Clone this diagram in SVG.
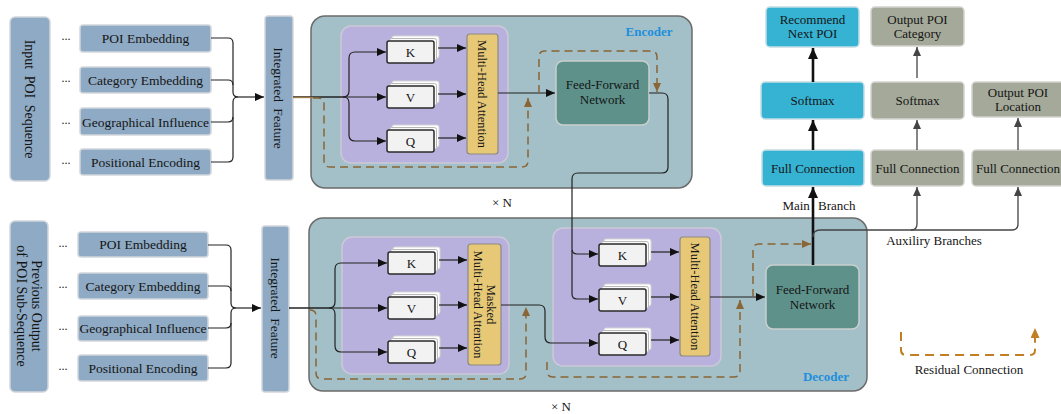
<svg xmlns="http://www.w3.org/2000/svg" xmlns:xlink="http://www.w3.org/1999/xlink" width="1061" height="414" viewBox="0 0 1061 414">
<style>
.t{font-family:"Liberation Serif","Times New Roman",serif;fill:#151515}
.emb{fill:#8eaac4;stroke:#d2d6db;stroke-width:1.5}
.blk{fill:#a3bfc7;stroke:#6b6b6b;stroke-width:1.5}
.pur{fill:#b8b0dd;stroke:#cdc9d8;stroke-width:1.5}
.mha{fill:#e6c877;stroke:#8d8a80;stroke-width:1.2}
.ffn{fill:#5d918a;stroke:#c9d0ce;stroke-width:1.5}
.blu{fill:#36b2d3;stroke:#c4dde5;stroke-width:1.5}
.gry{fill:#a4a999;stroke:#d2d3cf;stroke-width:1.5}
.ln{fill:none;stroke:#222;stroke-width:1.2}
.thk{fill:none;stroke:#111;stroke-width:2.6}
.aux{fill:none;stroke:#444;stroke-width:1.3}
.res{fill:none;stroke:#8a6535;stroke-width:1.5;stroke-dasharray:8 5}
.leg{fill:none;stroke:#c07f25;stroke-width:2;stroke-dasharray:9 6}
</style>
<defs>
<marker id="ah" markerUnits="userSpaceOnUse" markerWidth="9" markerHeight="8" refX="9" refY="4" orient="auto"><path d="M0,0 L9,4 L0,8 z" fill="#111"/></marker>
<marker id="ahT" markerUnits="userSpaceOnUse" markerWidth="11" markerHeight="10" refX="11" refY="5" orient="auto"><path d="M0,0 L11,5 L0,10 z" fill="#111"/></marker>
<marker id="ahG" markerUnits="userSpaceOnUse" markerWidth="9" markerHeight="8" refX="9" refY="4" orient="auto"><path d="M0,0 L9,4 L0,8 z" fill="#444"/></marker>
<marker id="ahR" markerUnits="userSpaceOnUse" markerWidth="9" markerHeight="8" refX="9" refY="4" orient="auto"><path d="M0,0 L9,4 L0,8 z" fill="#8a6535"/></marker>
<marker id="ahL" markerUnits="userSpaceOnUse" markerWidth="10" markerHeight="9" refX="10" refY="4.5" orient="auto"><path d="M0,0 L10,4.5 L0,9 z" fill="#c07f25"/></marker>
<g id="stk">
<rect x="5" y="-5" width="47" height="22" rx="2" fill="#fff" stroke="#d4d4d4"/>
<rect x="2.5" y="-2.5" width="47" height="22" rx="2" fill="#fafafa" stroke="#b8b8b8"/>
<rect x="0" y="0" width="47" height="22" rx="2" fill="#f2f2f2" stroke="#2a2a2a" stroke-width="1.5"/>
</g>
</defs>
<rect width="1061" height="414" fill="#fff"/>

<!-- encoder input side -->
<g id="input-seq"><rect class="emb" x="10" y="17" width="40" height="164" rx="5"/>
<text class="t" font-size="14" word-spacing="3" text-anchor="middle" transform="translate(30,99) rotate(90)" y="5">Input POI Sequence</text></g>
<g id="enc-poi"><text class="t" x="66" y="40" font-size="12" text-anchor="middle">...</text><rect class="emb" x="80" y="25" width="131" height="27" rx="3"/><text class="t" x="145.5" y="43" font-size="13.5" text-anchor="middle">POI Embedding</text></g>
<g id="enc-cat"><text class="t" x="66" y="82" font-size="12" text-anchor="middle">...</text><rect class="emb" x="80" y="67" width="131" height="26" rx="3"/><text class="t" x="145.5" y="85" font-size="13.5" text-anchor="middle">Category Embedding</text></g>
<g id="enc-geo"><text class="t" x="66" y="124" font-size="12" text-anchor="middle">...</text><rect class="emb" x="80" y="108" width="131" height="27" rx="3"/><text class="t" x="145.5" y="126.5" font-size="13.5" text-anchor="middle">Geographical Influence</text></g>
<g id="enc-pos"><text class="t" x="66" y="164" font-size="12" text-anchor="middle">...</text><rect class="emb" x="80" y="149" width="131" height="26" rx="3"/><text class="t" x="145.5" y="166.5" font-size="13.5" text-anchor="middle">Positional Encoding</text></g>
<g id="enc-feat"><rect class="emb" x="265" y="16" width="28" height="164" rx="3"/>
<text class="t" font-size="13.5" word-spacing="3" text-anchor="middle" transform="translate(279,98) rotate(90)" y="5">Integrated Feature</text></g>

<!-- decoder input side -->
<g id="prev-seq"><rect class="emb" x="10" y="221" width="38" height="171" rx="5"/>
<text class="t" font-size="14" text-anchor="middle" transform="translate(29,306) rotate(90)"><tspan x="0" y="-2.5">Previous Output</tspan><tspan x="0" y="12">of POI Sub-Sequence</tspan></text></g>
<g id="dec-poi"><text class="t" x="63" y="247" font-size="12" text-anchor="middle">...</text><rect class="emb" x="78" y="232" width="130" height="25" rx="3"/><text class="t" x="143" y="249" font-size="13.5" text-anchor="middle">POI Embedding</text></g>
<g id="dec-cat"><text class="t" x="63" y="288" font-size="12" text-anchor="middle">...</text><rect class="emb" x="78" y="273" width="130" height="26" rx="3"/><text class="t" x="143" y="290.5" font-size="13.5" text-anchor="middle">Category Embedding</text></g>
<g id="dec-geo"><text class="t" x="63" y="330" font-size="12" text-anchor="middle">...</text><rect class="emb" x="78" y="316" width="130" height="25" rx="3"/><text class="t" x="143" y="333" font-size="13.5" text-anchor="middle">Geographical Influence</text></g>
<g id="dec-pos"><text class="t" x="63" y="370" font-size="12" text-anchor="middle">...</text><rect class="emb" x="78" y="355" width="130" height="26" rx="3"/><text class="t" x="143" y="372.5" font-size="13.5" text-anchor="middle">Positional Encoding</text></g>
<g id="dec-feat"><rect class="emb" x="262" y="226" width="27" height="166" rx="3"/>
<text class="t" font-size="13.5" word-spacing="3" text-anchor="middle" transform="translate(275.5,308) rotate(90)" y="5">Integrated Feature</text></g>

<!-- encoder block -->
<g id="encoder">
<rect class="blk" x="311" y="16" width="381" height="172" rx="14"/>
<text class="t" x="649" y="36" font-size="13" font-weight="bold" text-anchor="middle" style="fill:#1e8fdc">Encoder</text>
<rect class="pur" x="341" y="26" width="167" height="137" rx="10"/>
</g>
<g id="enc-k"><use xlink:href="#stk" x="387" y="41"/><text class="t" x="410.5" y="56.5" font-size="13" text-anchor="middle">K</text></g>
<g id="enc-v"><use xlink:href="#stk" x="387" y="86"/><text class="t" x="410.5" y="101.5" font-size="13" text-anchor="middle">V</text></g>
<g id="enc-q"><use xlink:href="#stk" x="387" y="130"/><text class="t" x="410.5" y="145.5" font-size="13" text-anchor="middle">Q</text></g>
<g id="enc-mha"><rect class="mha" x="467" y="34" width="31" height="120" rx="3"/>
<text class="t" font-size="12.5" text-anchor="middle" transform="translate(482.5,94) rotate(90)" y="4.3">Multi-Head Attention</text></g>
<g id="enc-ffn"><rect class="ffn" x="556" y="61" width="93" height="64" rx="7"/>
<text class="t" font-size="13" text-anchor="middle"><tspan x="602.5" y="89">Feed-Forward</tspan><tspan x="602.5" y="104">Network</tspan></text></g>
<text class="t" x="502" y="207" font-size="13" text-anchor="middle">× N</text>

<!-- decoder block -->
<g id="decoder">
<rect class="blk" x="309" y="218" width="558" height="173" rx="14"/>
<text class="t" x="826" y="381" font-size="13" font-weight="bold" text-anchor="middle" style="fill:#1e8fdc">Decoder</text>
<rect class="pur" x="342" y="237" width="167" height="137" rx="10"/>
<rect class="pur" x="553" y="228" width="168" height="138" rx="10"/>
</g>
<g id="dec-k"><use xlink:href="#stk" x="388" y="252"/><text class="t" x="411.5" y="267.5" font-size="13" text-anchor="middle">K</text></g>
<g id="dec-v"><use xlink:href="#stk" x="388" y="297"/><text class="t" x="411.5" y="312.5" font-size="13" text-anchor="middle">V</text></g>
<g id="dec-q"><use xlink:href="#stk" x="388" y="341"/><text class="t" x="411.5" y="356.5" font-size="13" text-anchor="middle">Q</text></g>
<g id="dec-mmha"><rect class="mha" x="468" y="244" width="33" height="121" rx="3"/>
<text class="t" font-size="12.5" text-anchor="middle" transform="translate(484.5,304.5) rotate(90)"><tspan x="0" y="-2">Masked</tspan><tspan x="0" y="11">Multi-Head Attention</tspan></text></g>
<g id="dec-k2"><use xlink:href="#stk" x="599" y="244"/><text class="t" x="622.5" y="259.5" font-size="13" text-anchor="middle">K</text></g>
<g id="dec-v2"><use xlink:href="#stk" x="599" y="289"/><text class="t" x="622.5" y="304.5" font-size="13" text-anchor="middle">V</text></g>
<g id="dec-q2"><use xlink:href="#stk" x="599" y="333"/><text class="t" x="622.5" y="348.5" font-size="13" text-anchor="middle">Q</text></g>
<g id="dec-mha"><rect class="mha" x="680" y="237" width="30" height="119" rx="3"/>
<text class="t" font-size="12.5" text-anchor="middle" transform="translate(695,296.5) rotate(90)" y="4.3">Multi-Head Attention</text></g>
<g id="dec-ffn"><rect class="ffn" x="766" y="265" width="93" height="64" rx="7"/>
<text class="t" font-size="13" text-anchor="middle"><tspan x="812.5" y="294">Feed-Forward</tspan><tspan x="812.5" y="309">Network</tspan></text></g>
<text class="t" x="561" y="411" font-size="13" text-anchor="middle">× N</text>

<!-- output heads -->
<g id="recommend"><rect class="blu" x="766" y="7" width="93" height="40" rx="4"/>
<text class="t" font-size="13" text-anchor="middle"><tspan x="812.5" y="24">Recommend</tspan><tspan x="812.5" y="38">Next POI</tspan></text></g>
<g id="softmax-main"><rect class="blu" x="761" y="82" width="103" height="37" rx="4"/><text class="t" x="812.5" y="104.5" font-size="13" text-anchor="middle">Softmax</text></g>
<g id="fc-main"><rect class="blu" x="762" y="150" width="102" height="36" rx="4"/><text class="t" x="813" y="172.5" font-size="13" text-anchor="middle">Full Connection</text></g>
<g id="out-cat"><rect class="gry" x="871" y="7" width="93" height="39" rx="4"/>
<text class="t" font-size="13" text-anchor="middle"><tspan x="917.5" y="24">Output POI</tspan><tspan x="917.5" y="38">Category</tspan></text></g>
<g id="softmax-cat"><rect class="gry" x="871" y="82" width="93" height="37" rx="4"/><text class="t" x="917.5" y="104.5" font-size="13" text-anchor="middle">Softmax</text></g>
<g id="fc-cat"><rect class="gry" x="871" y="150" width="93" height="36" rx="4"/><text class="t" x="917.5" y="172.5" font-size="13" text-anchor="middle">Full Connection</text></g>
<g id="out-loc"><rect class="gry" x="972" y="82" width="93" height="35" rx="4"/>
<text class="t" font-size="13" text-anchor="middle"><tspan x="1018" y="97">Output POI</tspan><tspan x="1018" y="111">Location</tspan></text></g>
<g id="fc-loc"><rect class="gry" x="972" y="150" width="93" height="36" rx="4"/><text class="t" x="1018" y="172.5" font-size="13" text-anchor="middle">Full Connection</text></g>

<!-- connectors -->
<g id="connectors">
<!-- encoder input brace -->
<path class="ln" d="M211,38 H228 q5,0 5,5 V92 q0,5 5,5"/>
<path class="ln" d="M211,80 H228 q5,0 5,5"/>
<path class="ln" d="M211,122 H228 q5,0 5,-5"/>
<path class="ln" d="M211,162 H228 q5,0 5,-5 V102 q0,-5 5,-5"/>
<path class="ln" d="M238,97 H264" marker-end="url(#ah)"/>
<!-- decoder input brace -->
<path class="ln" d="M208,245 H226 q5,0 5,5 V303 q0,5 5,5"/>
<path class="ln" d="M208,286 H226 q5,0 5,5"/>
<path class="ln" d="M208,328 H226 q5,0 5,-5"/>
<path class="ln" d="M208,368 H226 q5,0 5,-5 V313 q0,-5 5,-5"/>
<path class="ln" d="M236,308 H261" marker-end="url(#ah)"/>

<!-- encoder internals -->
<path class="ln" d="M293,97 H343 q6,0 6,-6 V58 q0,-6 6,-6 H386" marker-end="url(#ah)"/>
<path class="ln" d="M293,97 H386" marker-end="url(#ah)"/>
<path class="ln" d="M343,97 q6,0 6,6 V135 q0,6 6,6 H386" marker-end="url(#ah)"/>
<path d="M293,97.5 H313" stroke="#a07a45" stroke-width="1.3"/>
<path class="ln" d="M438,48 H466" marker-end="url(#ah)"/>
<path class="ln" d="M438,94 H466" marker-end="url(#ah)"/>
<path class="ln" d="M438,138 H466" marker-end="url(#ah)"/>
<path class="ln" d="M498,93 H555" marker-end="url(#ah)"/>
<path class="res" d="M313,98 H318 q6,0 6,6 V161 q0,6 6,6 H522 q6,0 6,-6 V98" marker-end="url(#ahR)"/>
<path class="res" d="M539,93 V57 q0,-6 6,-6 H651 q6,0 6,6 V92" marker-end="url(#ahR)"/>
<!-- encoder output to decoder cross attention -->
<path class="ln" d="M649,93 H662 q6,0 6,6 V167 q0,6 -6,6 H578 q-6,0 -6,6 V249 q0,5 5,5 H598" marker-end="url(#ah)"/>
<path class="ln" d="M572,250 V294 q0,5 5,5 H598" marker-end="url(#ah)"/>

<!-- decoder internals -->
<path class="ln" d="M289,308 H329 q6,0 6,-6 V269 q0,-6 6,-6 H387" marker-end="url(#ah)"/>
<path class="ln" d="M289,308 H387" marker-end="url(#ah)"/>
<path class="ln" d="M329,308 q6,0 6,6 V346 q0,6 6,6 H387" marker-end="url(#ah)"/>
<path class="ln" d="M439,260 H467" marker-end="url(#ah)"/>
<path class="ln" d="M439,305 H467" marker-end="url(#ah)"/>
<path class="ln" d="M439,348 H467" marker-end="url(#ah)"/>
<path class="ln" d="M501,305 H539 q6,0 6,6 V337 q0,6 6,6 H598" marker-end="url(#ah)"/>
<path class="res" d="M310,310 q6,0 6,6 V373 q0,6 6,6 H520 q6,0 6,-6 V307" marker-end="url(#ahR)"/>
<path class="ln" d="M651,252 H679" marker-end="url(#ah)"/>
<path class="ln" d="M651,297 H679" marker-end="url(#ah)"/>
<path class="ln" d="M651,340 H679" marker-end="url(#ah)"/>
<path class="ln" d="M710,297 H765" marker-end="url(#ah)"/>
<path class="res" d="M547,362 V371 q0,6 6,6 H734 q6,0 6,-6 V300" marker-end="url(#ahR)"/>
<path class="res" d="M753,297 V250 q0,-6 6,-6 H811" marker-end="url(#ahR)"/>

<!-- main branch -->
<path class="thk" d="M813,265 V187" marker-end="url(#ahT)"/>
<path class="thk" d="M813,150 V120" marker-end="url(#ahT)"/>
<path class="thk" d="M813,82 V48" marker-end="url(#ahT)"/>
<!-- auxiliary branches -->
<path class="aux" d="M813,237 q0,-7 7,-7 H911 q6,0 6,-6 V187" marker-end="url(#ahG)"/>
<path class="aux" d="M911,230 H1012 q6,0 6,-6 V187" marker-end="url(#ahG)"/>
<path class="aux" d="M917,150 V120" marker-end="url(#ahG)"/>
<path class="aux" d="M917,78 V47" marker-end="url(#ahG)"/>
<path class="aux" d="M1018,150 V118" marker-end="url(#ahG)"/>
</g>

<text class="t" x="819" y="210" font-size="13" word-spacing="5" text-anchor="middle">Main Branch</text>
<text class="t" x="934" y="245" font-size="13" text-anchor="middle">Auxiliry Branches</text>

<!-- legend -->
<g id="legend">
<path class="leg" d="M901,332 V350 q0,5 5,5 H1030 q5,0 5,-5 V328" marker-end="url(#ahL)"/>
<text class="t" x="969" y="374" font-size="13" text-anchor="middle">Residual Connection</text>
</g>
</svg>
